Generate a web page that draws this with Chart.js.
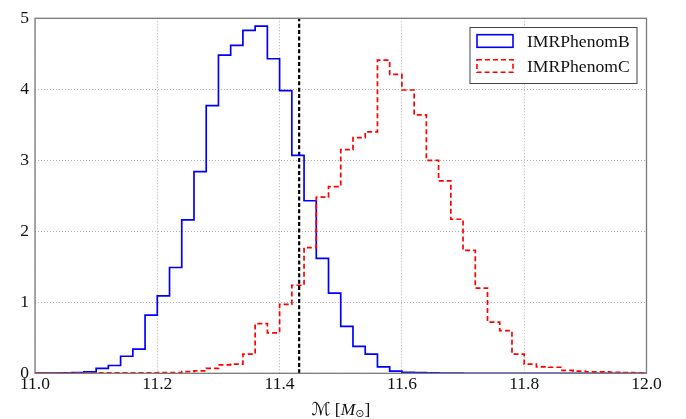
<!DOCTYPE html>
<html>
<head>
<meta charset="utf-8">
<script src="https://cdn.jsdelivr.net/npm/chart.js@4"></script>
<style>
  html, body { margin: 0; padding: 0; background: #ffffff; }
  #wrap { width: 686px; height: 419px; }
</style>
</head>
<body>
<div id="wrap"><canvas id="c" width="686" height="419"></canvas></div>
<script>
// ---- data ----
const binEdges = [11.00, 11.02, 11.04, 11.06, 11.08, 11.10, 11.12, 11.14, 11.16, 11.18,
                  11.20, 11.22, 11.24, 11.26, 11.28, 11.30, 11.32, 11.34, 11.36, 11.38,
                  11.40, 11.42, 11.44, 11.46, 11.48, 11.50, 11.52, 11.54, 11.56, 11.58,
                  11.60, 11.62, 11.64, 11.66, 11.68, 11.70, 11.72, 11.74, 11.76, 11.78,
                  11.80, 11.82, 11.84, 11.86, 11.88, 11.90, 11.92, 11.94, 11.96, 11.98,
                  12.00];
const seriesNames = ['IMRPhenomB', 'IMRPhenomC'];
const phenomB = [0.002, 0.003, 0.005, 0.010, 0.020, 0.07, 0.11, 0.24, 0.34, 0.82,
                 1.09, 1.49, 2.16, 2.84, 3.77, 4.48, 4.62, 4.83, 4.89, 4.43,
                 3.98, 3.07, 2.43, 1.62, 1.13, 0.66, 0.38, 0.27, 0.09, 0.03,
                 0.015, 0.010, 0.005, 0.003, 0.002, 0, 0, 0, 0, 0,
                 0, 0, 0, 0, 0, 0, 0, 0, 0, 0];
const phenomC = [0.002, 0.002, 0.003, 0.003, 0.004, 0.005, 0.005, 0.006, 0.007, 0.008,
                 0.010, 0.010, 0.025, 0.035, 0.07, 0.12, 0.13, 0.27, 0.70, 0.57,
                 0.97, 1.24, 1.77, 2.48, 2.63, 3.15, 3.32, 3.40, 4.41, 4.21,
                 3.99, 3.64, 3.00, 2.71, 2.17, 1.73, 1.20, 0.72, 0.60, 0.27,
                 0.13, 0.09, 0.085, 0.04, 0.03, 0.02, 0.02, 0.015, 0.01, 0.005];
const markerValue = 11.432;
const xTicks = [11.0, 11.2, 11.4, 11.6, 11.8, 12.0];
const yTicks = [0, 1, 2, 3, 4, 5];

function stepPoints(vals) {
  const pts = [{x: binEdges[0], y: 0}];
  for (let i = 0; i < vals.length; i++) pts.push({x: binEdges[i], y: vals[i]});
  pts.push({x: binEdges[binEdges.length - 1], y: 0});
  return pts;
}

const SERIF = '"Liberation Serif", "Times New Roman", "DejaVu Serif", serif';

const framePlugin = {
  id: 'frameAndExtras',
  beforeDatasetsDraw(chart) {
    const {ctx, chartArea: a} = chart;
    const xs = chart.scales.x;
    const px = xs.getPixelForValue(markerValue);
    ctx.save();
    ctx.strokeStyle = '#000000';
    ctx.lineWidth = 2.2;
    ctx.setLineDash([4, 2.4]);
    ctx.beginPath();
    ctx.moveTo(px, a.bottom);
    ctx.lineTo(px, a.top);
    ctx.stroke();
    ctx.restore();
  },
  afterDatasetsDraw(chart) {
    const {ctx, chartArea: a} = chart;
    ctx.save();
    ctx.strokeStyle = '#7a7a7a';
    ctx.lineWidth = 1.3;
    ctx.setLineDash([]);
    ctx.strokeRect(a.left, a.top, a.right - a.left, a.bottom - a.top);
    // legend
    const lx = 470, ly = 27.5, lw = 167, lh = 56;
    ctx.fillStyle = '#ffffff';
    ctx.fillRect(lx, ly, lw, lh);
    ctx.strokeStyle = '#444444';
    ctx.lineWidth = 1;
    ctx.strokeRect(lx, ly, lw, lh);
    const ds = chart.data.datasets;
    for (let i = 0; i < ds.length; i++) {
      const cy = 41 + i * 25;
      ctx.strokeStyle = ds[i].borderColor;
      ctx.lineWidth = 1.6;
      ctx.setLineDash(ds[i].borderDash || []);
      ctx.strokeRect(477, cy - 6.3, 36, 12.6);
      ctx.setLineDash([]);
      ctx.fillStyle = '#111111';
      ctx.font = '17.6px ' + SERIF;
      ctx.textBaseline = 'middle';
      ctx.textAlign = 'left';
      ctx.fillText(ds[i].label, 527, cy + 1);
    }
    // x axis title
    const cx = (a.left + a.right) / 2;
    const ty = 410;
    const fMain = 'italic 17.5px ' + SERIF;
    const fUp = '17.5px ' + SERIF;
    const fSub = '11px "DejaVu Sans", sans-serif';
    const parts = [
      {t: '\u2133', f: 'italic 18px "DejaVu Serif", "DejaVu Sans", serif', dy: 0},
      {t: ' [', f: fUp, dy: 0},
      {t: 'M', f: fMain, dy: 0},
      {t: '\u2299', f: fSub, dy: 4},
      {t: ']', f: fUp, dy: 0}
    ];
    let total = 0;
    for (const p of parts) { ctx.font = p.f; p.w = ctx.measureText(p.t).width; total += p.w; }
    let x = cx - total / 2;
    ctx.fillStyle = '#111111';
    ctx.textBaseline = 'middle';
    ctx.textAlign = 'left';
    for (const p of parts) { ctx.font = p.f; ctx.fillText(p.t, x, ty + p.dy); x += p.w; }
    ctx.restore();
  }
};

new Chart(document.getElementById('c'), {
  type: 'line',
  data: {
    datasets: [
      {
        label: seriesNames[0],
        data: stepPoints(phenomB),
        borderColor: '#0000ff',
        backgroundColor: 'rgba(0,0,0,0)',
        borderWidth: 1.7,
        stepped: true,
        pointRadius: 0,
        fill: false,
        order: 1
      },
      {
        label: seriesNames[1],
        data: stepPoints(phenomC),
        borderColor: '#ff0000',
        backgroundColor: 'rgba(0,0,0,0)',
        borderWidth: 1.7,
        borderDash: [5, 3],
        stepped: true,
        pointRadius: 0,
        fill: false,
        order: 0
      }
    ]
  },
  options: {
    responsive: false,
    animation: false,
    layout: { padding: { left: 0, right: 39.5, top: 18.3, bottom: 0 } },
    plugins: { legend: { display: false }, tooltip: { enabled: false } },
    scales: {
      x: {
        type: 'linear',
        min: 11.0, max: 12.0,
        afterBuildTicks: (s) => { s.ticks = xTicks.map(v => ({value: v})); },
        afterFit: (s) => { s.height = 45.7; },
        border: { display: false, dash: [1, 2] },
        grid: { color: '#b0b0b0', lineWidth: 1, drawTicks: false },
        ticks: {
          padding: 1,
          color: '#111111',
          font: { family: SERIF, size: 17.5 },
          maxRotation: 0,
          callback: (v) => Number(v).toFixed(1)
        }
      },
      y: {
        type: 'linear',
        min: 0, max: 5,
        afterBuildTicks: (s) => { s.ticks = yTicks.map(v => ({value: v})); },
        afterFit: (s) => { s.width = 35; },
        border: { display: false, dash: [1, 2] },
        grid: { color: '#b0b0b0', lineWidth: 1, drawTicks: false },
        ticks: {
          padding: 6,
          color: '#111111',
          font: { family: SERIF, size: 17.5 },
          callback: (v) => String(v)
        }
      }
    }
  },
  plugins: [framePlugin]
});
</script>
</body>
</html>
